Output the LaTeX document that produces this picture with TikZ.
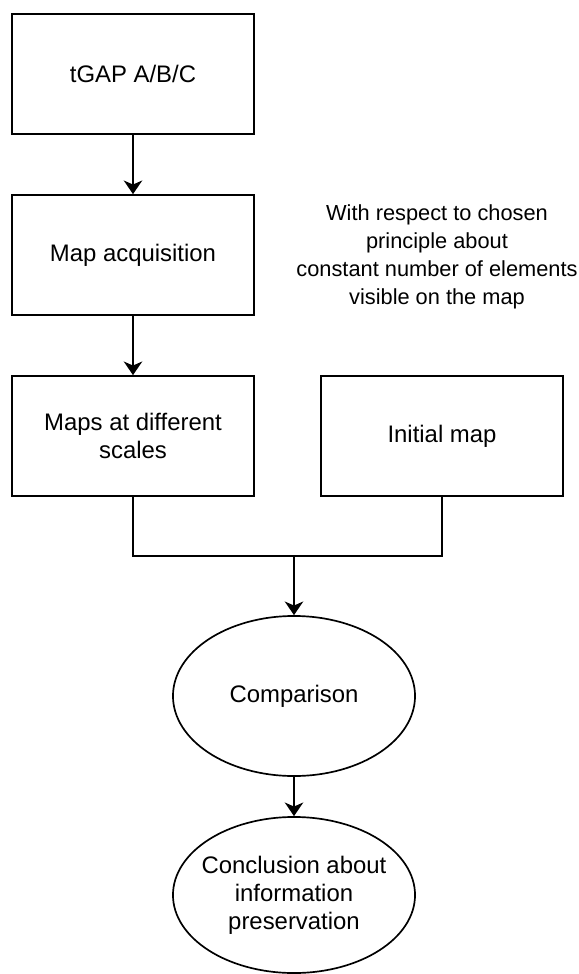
\documentclass[tikz,border=0pt]{standalone}
\usepackage{fontspec}
\setmainfont{Liberation Sans}
\usetikzlibrary{arrows.meta, positioning, shapes.geometric}

\begin{document}
\begin{tikzpicture}[
  x=0.025cm, y=-0.025cm,
  stepbox/.style={rectangle, draw, line width=1.2pt, minimum width=6.05cm, minimum height=3cm, inner sep=2pt, align=center, font=\fontsize{17}{20}\selectfont},
  stepoval/.style={ellipse, draw, line width=1.2pt, minimum width=6.05cm, inner xsep=-10pt, inner ysep=0pt, align=center, font=\fontsize{17}{20}\selectfont},
  note/.style={align=center, font=\fontsize{15.5}{20}\selectfont},
  link/.style={line width=1.2pt},
  >={Stealth[length=3.4mm, width=4.6mm, inset=1mm]}
]
  \useasboundingbox (0,0) rectangle (579,974);

  % Nodes
  \node[stepbox] (tgap) at (133,74) {tGAP A/B/C};
  \node[stepbox] (acq) at (133,255) {Map acquisition};
  \node[stepbox] (scales) at (133,436) {Maps at different\\scales};
  \node[stepbox] (init) at (442,436) {Initial map};
  \node[note] (rule) at (437,257) {With respect to chosen\\principle about\\constant number of elements\\visible on the map};
  \node[stepoval, minimum height=4cm] (cmp) at (294,696) {Comparison};
  \node[stepoval, minimum height=3.9cm] (concl) at (294,895) {Conclusion about\\information\\preservation};
  \coordinate (join) at (294,556);

  % Connectors
  \draw[link, ->] (tgap) -- (acq);
  \draw[link, ->] (acq) -- (scales);
  \draw[link] (scales.south) |- (join);
  \draw[link] (init.south) |- (join);
  \draw[link, ->] (join) -- (cmp);
  \draw[link, ->] (cmp) -- (concl);
\end{tikzpicture}
\end{document}
